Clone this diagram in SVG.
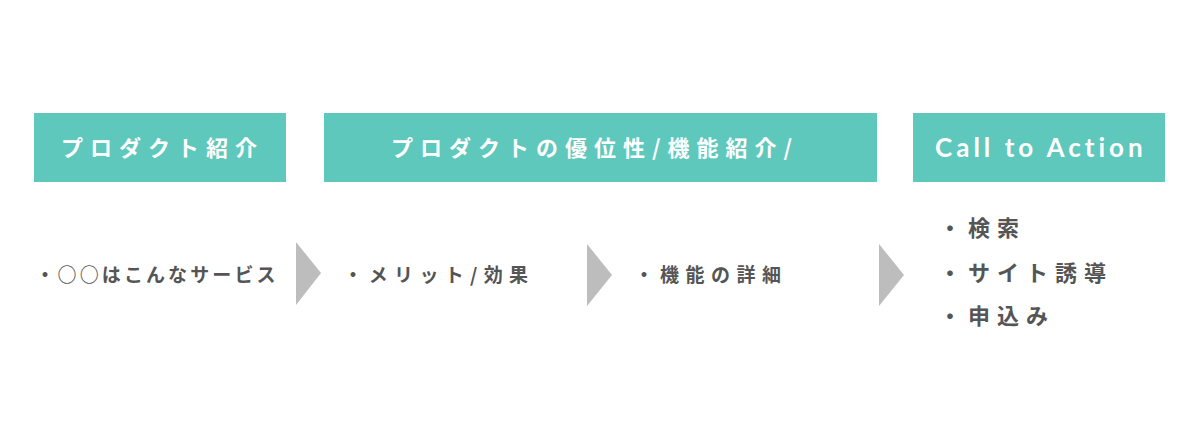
<svg xmlns="http://www.w3.org/2000/svg" width="1200" height="440" viewBox="0 0 1200 440">
<style>
.box{fill:#5DC8BB}
.hd{font-family:"Noto Sans CJK JP","Noto Sans",sans-serif;font-size:22px;font-weight:bold;fill:#ffffff;letter-spacing:7px}
.hl{font-family:Lato,"Noto Sans",sans-serif;font-size:26px;font-weight:bold;fill:#ffffff;letter-spacing:4px}
.bd{font-family:"Noto Sans CJK JP",sans-serif;font-size:19px;font-weight:bold;fill:#555555}
.bl{font-family:"Noto Sans CJK JP",sans-serif;font-size:22px;font-weight:bold;fill:#555555;letter-spacing:7px}
.arr{fill:#BDBDBD}
</style>
<rect width="1200" height="440" fill="#ffffff"/>
<g id="node-intro">
<rect class="box" x="34" y="113" width="252" height="69"/>
<text class="hd" x="61" y="156">プロダクト紹介</text>
<text class="bd" x="35.5" y="282" letter-spacing="3.1">・○○はこんなサービス</text>
</g>
<g id="node-advantage">
<rect class="box" x="324" y="113" width="553" height="69"/>
<text class="hd" x="391" y="156">プロダクトの優位性/機能紹介/</text>
<text class="bd" x="343.5" y="282" letter-spacing="6.3">・メリット/効果</text>
<text class="bd" x="634.5" y="282" letter-spacing="6.5">・機能の詳細</text>
</g>
<g id="node-cta">
<rect class="box" x="913" y="113" width="252" height="69"/>
<text class="hl" x="935" y="157">Call to Action</text>
<text class="bl" x="939" y="236">・検索</text>
<text class="bl" x="939" y="281">・サイト誘導</text>
<text class="bl" x="939" y="324">・申込み</text>
</g>
<g id="connectors">
<polygon class="arr" points="296,242 321,273 296,305"/>
<polygon class="arr" points="587,244 612,275 587,306"/>
<polygon class="arr" points="879,244 904,275 879,306"/>
</g>
</svg>
